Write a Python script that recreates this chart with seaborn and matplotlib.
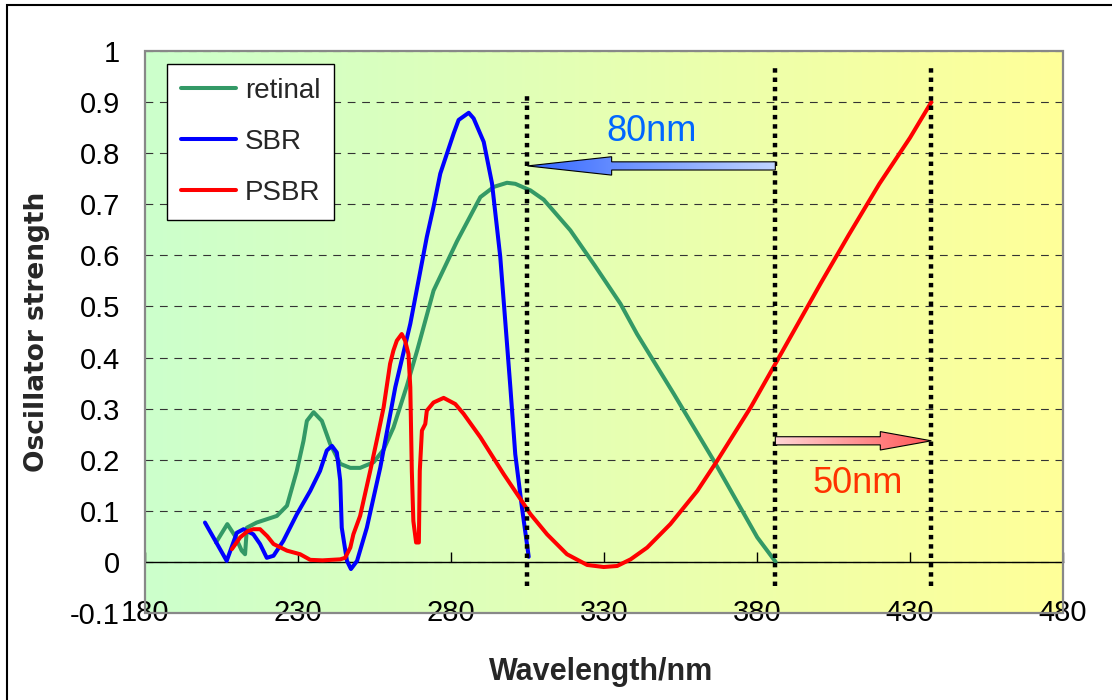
import matplotlib
matplotlib.use('Agg')
import matplotlib.pyplot as plt
import seaborn as sns
import numpy as np
from matplotlib.patches import FancyArrow, Rectangle
from matplotlib.colors import LinearSegmentedColormap

# curves (wavelength nm, oscillator strength)
retinal_x = [203.2, 206.9, 209.5, 211.6, 212.7, 213.3, 216.5, 223.1, 226.4, 229.6, 231.8, 232.9,
             235.1, 237.8, 240.5, 243.8, 247.1, 250.3, 254.7, 258.0, 261.2, 265.6, 269.0, 274.3,
             282.0, 289.6, 294.0, 298.3, 301.0, 306.0, 310.3, 319.0, 327.0, 335.4, 340.8, 352.8,
             365.9, 380.1, 386.1]
retinal_y = [0.038, 0.074, 0.050, 0.022, 0.015, 0.067, 0.077, 0.090, 0.110, 0.178, 0.237, 0.276,
             0.293, 0.276, 0.231, 0.192, 0.184, 0.184, 0.195, 0.220, 0.263, 0.345, 0.415, 0.531,
             0.628, 0.714, 0.734, 0.742, 0.740, 0.727, 0.709, 0.649, 0.580, 0.505, 0.446, 0.329,
             0.198, 0.048, 0.000]

sbr_x = [199.6, 206.7, 210.0, 212.2, 215.4, 217.6, 219.8, 222.0, 225.2, 229.6, 234.0, 237.2,
         239.4, 241.1, 242.7, 243.8, 244.3, 246.0, 247.3, 249.3, 252.5, 256.9, 261.8, 266.7,
         272.1, 274.3, 276.5, 280.9, 282.5, 285.8, 287.4, 290.7, 293.4, 296.1, 297.8, 299.4,
         301.0, 303.2, 305.4]
sbr_y = [0.077, 0.002, 0.057, 0.064, 0.054, 0.035, 0.008, 0.012, 0.041, 0.093, 0.139, 0.178,
         0.218, 0.227, 0.214, 0.159, 0.067, 0.002, -0.014, 0.002, 0.067, 0.185, 0.342, 0.466,
         0.636, 0.695, 0.760, 0.839, 0.865, 0.879, 0.868, 0.822, 0.741, 0.597, 0.466, 0.342,
         0.211, 0.106, 0.010]

psbr_x = [208.4, 211.1, 213.5, 215.4, 217.6, 220.0, 222.0, 226.4, 230.7, 234.0, 238.0, 243.8,
          245.4, 247.1, 248.1, 250.3, 253.6, 256.0, 258.0, 260.1, 261.2, 262.3, 263.9, 265.0,
          266.1, 266.7, 267.2, 267.7, 268.6, 269.5, 269.8, 270.5, 271.6, 272.1, 274.3, 277.6,
          281.4, 284.1, 289.6, 297.2, 302.7, 305.9, 311.4, 317.9, 324.5, 329.9, 334.3, 338.7,
          344.1, 351.7, 360.5, 367.0, 378.0, 386.6, 400.8, 410.0, 420.0, 430.0, 437.0]
psbr_y = [0.025, 0.048, 0.060, 0.064, 0.064, 0.050, 0.035, 0.022, 0.015, 0.004, 0.003, 0.005,
          0.008, 0.028, 0.054, 0.090, 0.178, 0.245, 0.303, 0.388, 0.414, 0.433, 0.446, 0.433,
          0.407, 0.342, 0.178, 0.080, 0.038, 0.038, 0.178, 0.257, 0.270, 0.296, 0.312, 0.321,
          0.309, 0.290, 0.244, 0.172, 0.123, 0.094, 0.054, 0.015, -0.006, -0.010, -0.008, 0.005,
          0.028, 0.074, 0.139, 0.198, 0.303, 0.394, 0.545, 0.640, 0.740, 0.830, 0.900]

x_ticks = [180, 230, 280, 330, 380, 430, 480]
x_ticklabels = ['180', '230', '280', '330', '380', '430', '480']
y_ticks = [-0.1, 0, 0.1, 0.2, 0.3, 0.4, 0.5, 0.6, 0.7, 0.8, 0.9, 1]
y_ticklabels = ['-0.1', '0', '0.1', '0.2', '0.3', '0.4', '0.5', '0.6', '0.7', '0.8', '0.9', '1']

# dotted markers and the two shift arrows
dotted_x = [305, 386, 437]
dotted_top = [0.92, 0.975, 0.975]
shift_blue = (386, 305, 0.775)
shift_red = (386, 437, 0.237)

sns.set_theme(style='white')
plt.rcParams['font.family'] = ['Liberation Sans', 'DejaVu Sans']

fig = plt.figure(figsize=(11.12, 7.0), dpi=100)
ax = fig.add_axes([0.1304, 0.1243, 0.8255, 0.8029])

# green -> yellow background
bg = LinearSegmentedColormap.from_list('bg', ['#ccffcc', '#ffff99'])
ax.imshow(np.linspace(0, 1, 256).reshape(1, -1), extent=[180, 480, -0.1, 1],
          cmap=bg, aspect='auto', zorder=0)

sns.lineplot(x=retinal_x, y=retinal_y, sort=False, color='#339966', lw=2.9, label='retinal', ax=ax, zorder=3)
sns.lineplot(x=sbr_x, y=sbr_y, sort=False, color='#0000ff', lw=2.9, label='SBR', ax=ax, zorder=3)
sns.lineplot(x=psbr_x, y=psbr_y, sort=False, color='#ff0000', lw=2.9, label='PSBR', ax=ax, zorder=3)

ax.vlines(dotted_x, -0.047, dotted_top, colors='black', linewidth=3.2,
          linestyles=[(0, (1, 1.1))], zorder=4, capstyle='butt')


def gradient_arrow(x0, x1, y, c_tail, c_head, head_len):
    arr = FancyArrow(x0, y, x1 - x0, 0, width=0.016, head_width=0.036, head_length=head_len,
                     length_includes_head=True, fc='none', ec='black', lw=0.8, zorder=6)
    ax.add_patch(arr)
    cm = LinearSegmentedColormap.from_list('a', [c_tail, c_head])
    im = ax.imshow(np.linspace(0, 1, 256).reshape(1, -1), extent=[x0, x1, y - 0.02, y + 0.02],
                   cmap=cm, aspect='auto', zorder=5)
    im.set_clip_path(arr)


gradient_arrow(*shift_blue, '#c0d4ff', '#3366ff', 27.5)
gradient_arrow(*shift_red, '#ffd6d6', '#ff5555', 16.7)

ax.text(345.5, 0.842, '80nm', color='#0066ff', fontsize=26, ha='center', va='center', zorder=7)
ax.text(413, 0.153, '50nm', color='#ff3300', fontsize=26, ha='center', va='center', zorder=7)

ax.set_xlim(180, 480)
ax.set_ylim(-0.1, 1)

ax.grid(axis='y', color='#333333', linestyle=(0, (7, 6)), linewidth=0.8)
ax.set_axisbelow('line')

for side in ['left', 'right', 'top']:
    ax.spines[side].set_visible(False)
ax.spines['bottom'].set_position(('data', 0))
ax.spines['bottom'].set_color('black')
ax.spines['bottom'].set_linewidth(1)
ax.spines['bottom'].set_zorder(2)

# ticks after the spine move, which resets them
ax.set_xticks(x_ticks)
ax.set_xticklabels(x_ticklabels)
ax.set_yticks(y_ticks)
ax.set_yticklabels(y_ticklabels)
ax.tick_params(axis='x', direction='in', length=7, width=1, color='black', pad=27, bottom=True,
               labelsize=21, labelcolor='black')
ax.tick_params(axis='y', length=0, pad=18, labelsize=21, labelcolor='black')
ax.add_patch(Rectangle((0, 0), 1, 1, transform=ax.transAxes, fill=False, ec='#888888',
                       lw=1.6, clip_on=False, zorder=8))

ax.set_xlabel('Wavelength/nm', fontsize=22, fontweight='bold', labelpad=0)
ax.xaxis.set_label_coords(0.497, -0.078)
ax.set_ylabel('Oscillator strength', fontsize=19, fontweight='bold', family=['DejaVu Sans'])
ax.yaxis.set_label_coords(-0.103, 0.5)

leg = ax.legend(loc='upper left', bbox_to_anchor=(0.024, 0.977), borderaxespad=0, frameon=True,
                fancybox=False, edgecolor='black', framealpha=1, facecolor='white', fontsize=20,
                handlelength=2.0, handletextpad=0.3, labelspacing=0.9, borderpad=0.5)
leg.get_frame().set_linewidth(1)
leg.set_zorder(9)

# outer frame of the picture (left and top edges are visible)
fig.add_artist(Rectangle((7 / 1112, -0.5), 2, 1.5 - 5 / 700, transform=fig.transFigure,
                         fill=False, ec='black', lw=1.5))

fig.savefig('out.png', dpi=100)
